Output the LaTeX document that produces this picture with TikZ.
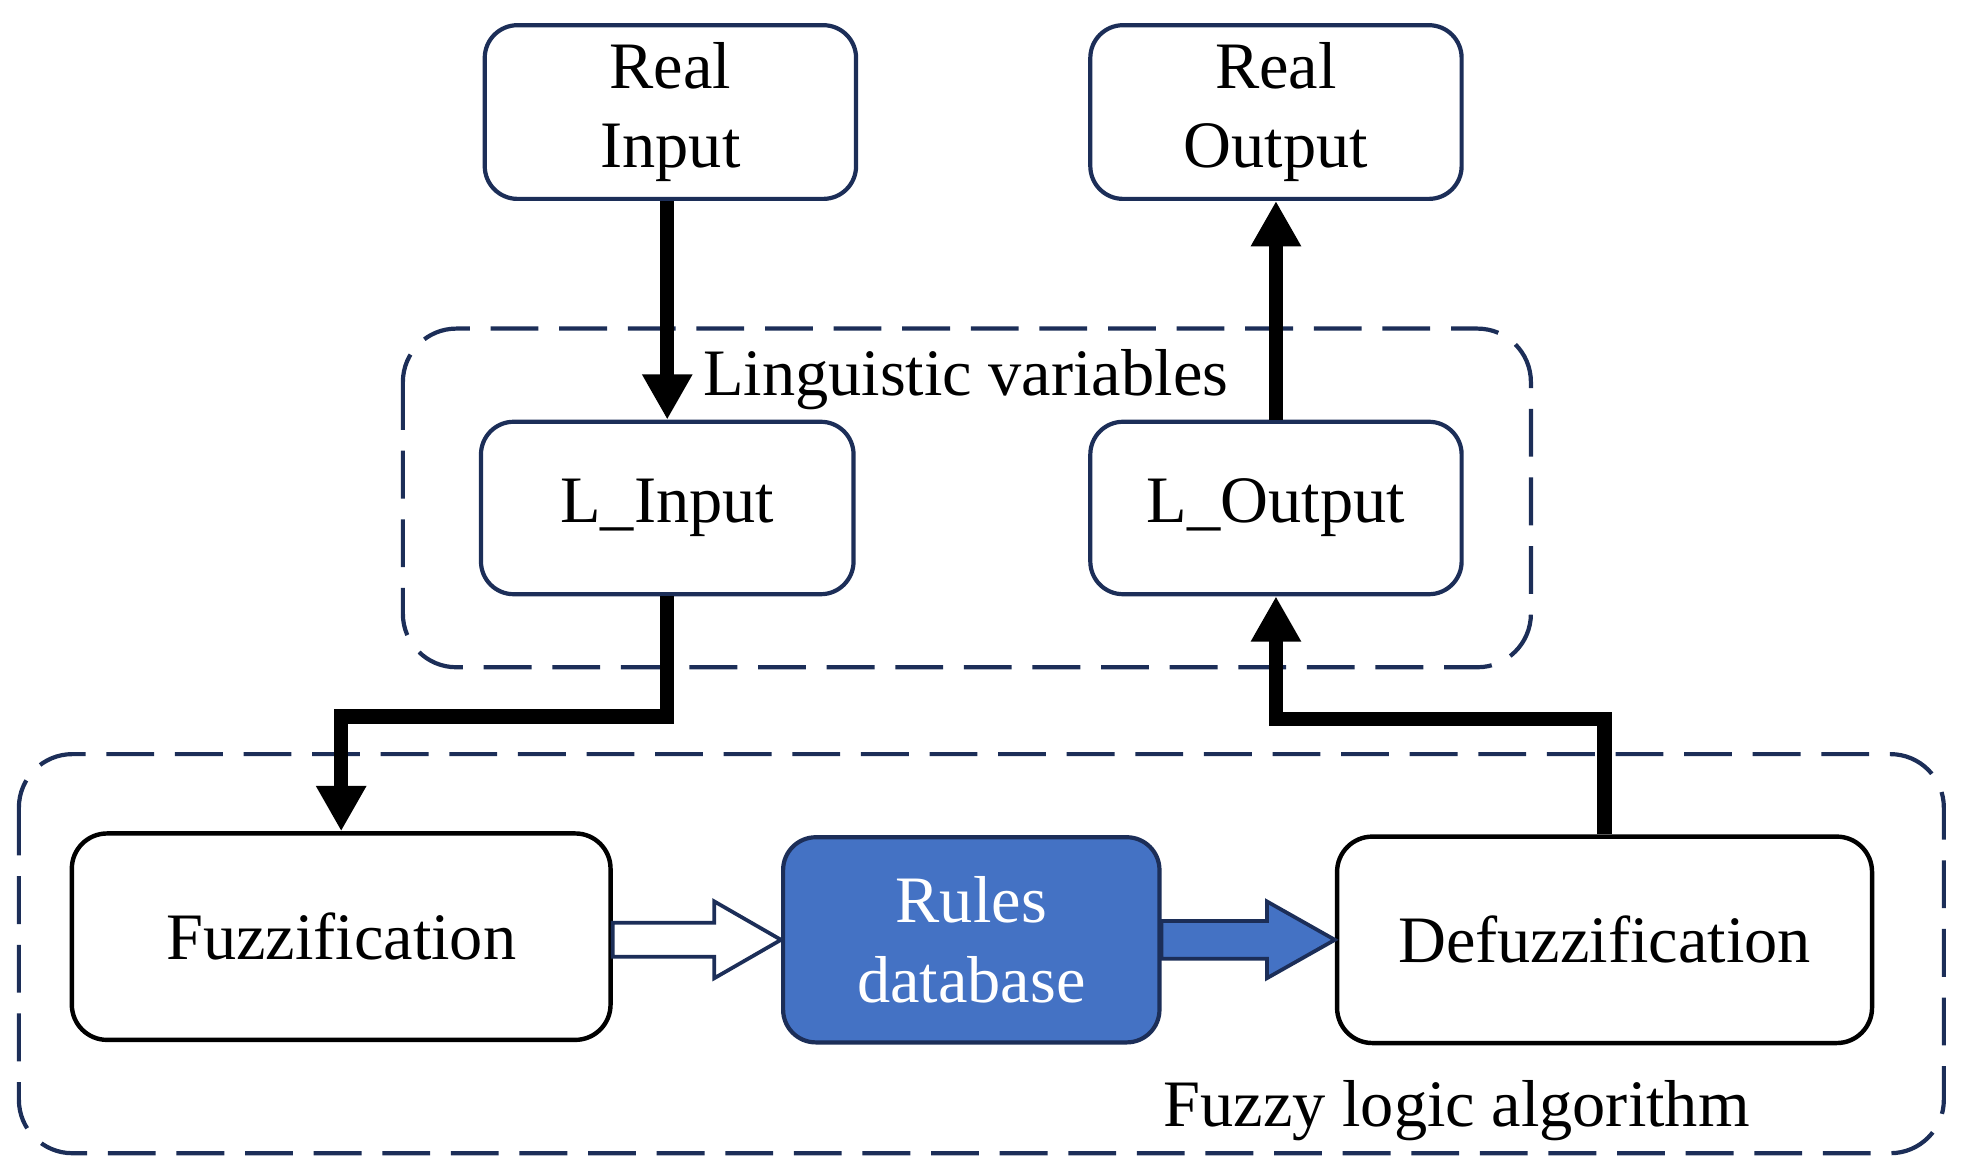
\documentclass[tikz,border=0pt]{standalone}
\usepackage{fontspec}
\setmainfont{Liberation Serif}
\usetikzlibrary{arrows.meta,calc}
\definecolor{navy}{RGB}{28,46,88}
\definecolor{rblue}{RGB}{68,114,196}
\begin{document}
\begin{tikzpicture}[x=0.02cm,y=-0.02cm,
  txt/.style={font=\fontsize{30}{36}\selectfont},
  box/.style={draw=navy, line width=1.9pt, rounded corners=0.52cm, fill=white,
    align=center, txt, inner sep=0pt},
  bbox/.style={box, draw=black, line width=2pt, rounded corners=0.56cm},
  group/.style={draw=navy, line width=1.9pt, dash pattern=on 0.76cm off 0.33cm, rounded corners=0.85cm},
  flow/.style={line width=0.23cm, -{Triangle[length=0.72cm,width=0.75cm]}},
  wide/.style={draw=navy, line width=1.7pt, line join=miter}]
\useasboundingbox (0,0) rectangle (1560,931.7);
% groups
\draw[group] (320,261) rectangle (1216,530);
\draw[group] (15,599) rectangle (1544,916);
\node[txt, anchor=base] (lvl) at (767,314) {Linguistic variables};
\node[txt, anchor=base] (fll) at (1157,895) {Fuzzy logic algorithm};
% boxes
\node[box, minimum width=5.9cm, minimum height=2.76cm] (ri) at (532.5,89) {Real\\Input};
\node[box, minimum width=5.9cm, minimum height=2.76cm] (ro) at (1013.5,89) {Real\\Output};
\node[box, minimum width=5.92cm, minimum height=2.74cm] (li) at (530,403.5) {L\_Input};
\node[box, minimum width=5.9cm, minimum height=2.74cm] (lo) at (1013.5,403.5) {L\_Output};
\node[bbox, minimum width=8.56cm, minimum height=3.28cm] (fz) at (271,744) {Fuzzification};
\node[box, fill=rblue, text=white, minimum width=5.98cm, minimum height=3.26cm] (rd) at (771.5,746.5) {Rules\\database};
\node[bbox, minimum width=8.5cm, minimum height=3.28cm] (dz) at (1274.5,746.5) {Defuzzification};
% connectors
\coordinate (k1) at (0,569);
\coordinate (k2) at (0,571);
\draw[flow] (ri.south -| li.north) -- (li.north);
\draw[flow] (lo.north) -- (ro.south);
\draw[flow] (li.south) -- (li.south |- k1) -| (fz.north);
\draw[flow] (dz.north) -- (dz.north |- k2) -| (lo.south);
% wide arrows
\draw[wide, fill=white] ($(fz.east |- rd.west)+(0,-13.5)$) -- ($(rd.west)+(-53,-13.5)$) -- ($(rd.west)+(-53,-30.5)$)
  -- (rd.west) -- ($(rd.west)+(-53,30.5)$) -- ($(rd.west)+(-53,13.5)$) -- ($(fz.east |- rd.west)+(0,13.5)$) -- cycle;
\draw[wide, fill=rblue] ($(rd.east)+(0,-15)$) -- ($(dz.west)+(-54,-15)$) -- ($(dz.west)+(-54,-30.5)$)
  -- (dz.west) -- ($(dz.west)+(-54,30.5)$) -- ($(dz.west)+(-54,15)$) -- ($(rd.east)+(0,15)$) -- cycle;
\end{tikzpicture}
\end{document}
